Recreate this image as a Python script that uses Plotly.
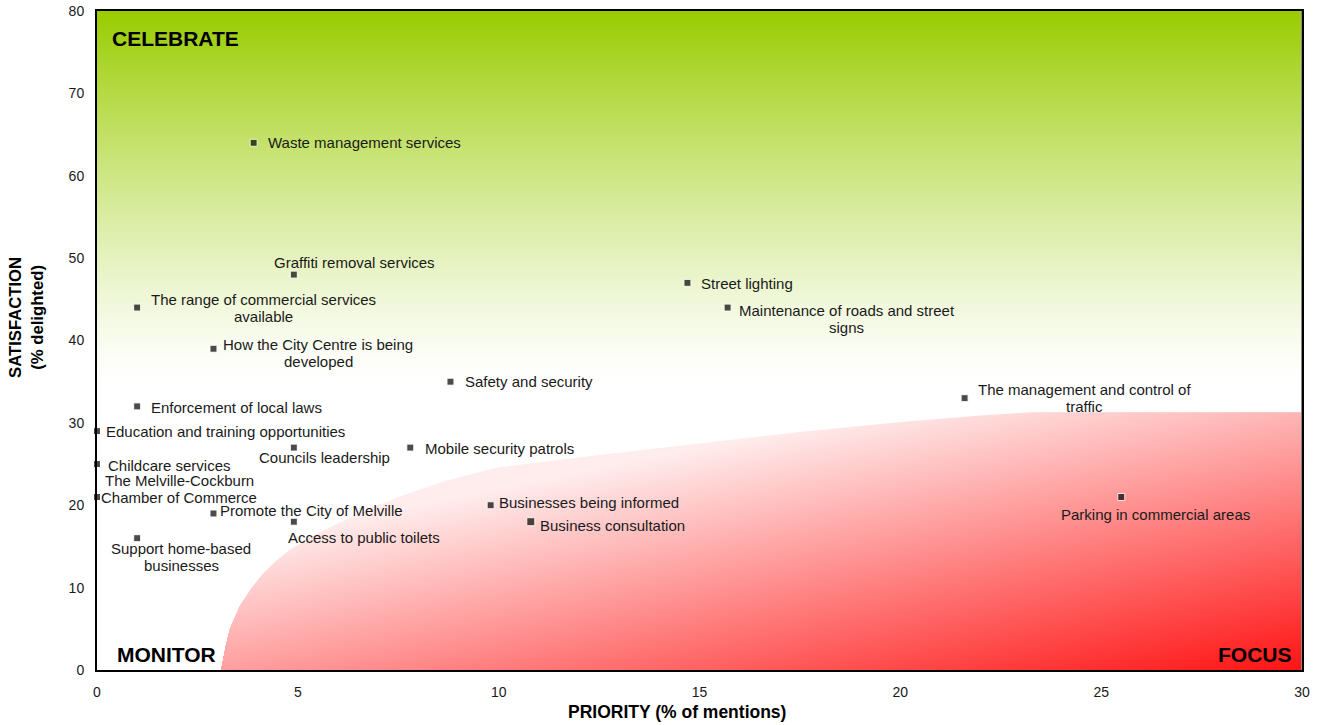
import base64
import struct
import zlib

import numpy as np
import plotly.graph_objects as go

# ---------------- data ----------------
items = [
    "Waste management services",
    "Graffiti removal services",
    "The range of commercial services<br>available",
    "How the City Centre is being<br>developed",
    "Street lighting",
    "Maintenance of roads and street<br>signs",
    "Safety and security",
    "Enforcement of local laws",
    "Education and training opportunities",
    "Childcare services",
    "The Melville-Cockburn<br>Chamber of Commerce",
    "Councils leadership",
    "Mobile security patrols",
    "The management and control of<br>traffic",
    "Parking in commercial areas",
    "Businesses being informed",
    "Business consultation",
    "Promote the City of Melville",
    "Access to public toilets",
    "Support home-based<br>businesses",
]
priority = [3.9, 4.9, 1.0, 2.9, 14.7, 15.7, 8.8, 1.0, 0.0, 0.0, 0.0, 4.9, 7.8,
            21.6, 25.5, 9.8, 10.8, 2.9, 4.9, 1.0]
satisfaction = [64, 48, 44, 39, 47, 44, 35, 32, 29, 25, 21, 27, 27,
                33, 21, 20, 18, 19, 18, 16]

x_ticks = [0, 5, 10, 15, 20, 25, 30]
y_ticks = [0, 10, 20, 30, 40, 50, 60, 70, 80]

# boundary of the "FOCUS" zone (priority, satisfaction)
zone_x = [3.08, 3.2, 3.3, 3.55, 3.85, 4.15, 4.47, 4.8, 5.5, 6.5, 7.5, 8.7, 10.0,
          12.5, 15.0, 17.5, 20.0, 22.0, 23.3, 30.0]
zone_y = [0.0, 3.0, 5.0, 7.8, 10.0, 11.8, 13.3, 14.6, 16.6, 19.0, 21.0, 23.0, 24.6,
          26.1, 27.5, 28.9, 30.1, 30.9, 31.3, 31.3]

# ---------------- label placement (anchor, dx px, dy px down) ----------------
label_style = [
    ("left", 12, 0), ("left", -22, -12), ("center", 126, 0), ("center", 105, 4),
    ("left", 12, 1), ("center", 119, 11), ("left", 13, 0), ("left", 12, 1),
    ("left", 7, 0), ("left", 9, 1), ("center", 82, -8), ("center", 31, 10),
    ("left", 13, 1), ("center", 120, 0), ("center", 34, 17), ("left", 6, -3),
    ("left", 7, 4), ("left", 5, -3), ("center", 70, 16), ("center", 44, 19),
]
LINE_GAP = 17

# ---------------- background image ----------------
L, T, W, H = 97, 11, 1205, 659
XMAX, YMAX = 30.0, 80.0

jj, ii = np.mgrid[0:H, 0:W]
xd = (ii + 0.5) / W * XMAX
yd = YMAX - (jj + 0.5) / H * YMAX
px = L + ii + 0.5
py = T + jj + 0.5

# green-to-white vertical gradient
frac = np.clip((yd - 35.0) / (YMAX - 35.0), 0, 1) ** 1.25
green = np.array([153, 204, 0], float)
white = np.array([255, 255, 255], float)
bg = white[None, None, :] * (1 - frac[..., None]) + green[None, None, :] * frac[..., None]

# red diagonal gradient in the focus zone
f = np.clip(0.000503 * px + 0.00245 * py - 1.375, 0.07, 0.97)
red = np.stack([np.full_like(f, 255.0), 255 * (1 - f), 255 * (1 - f)], axis=-1)

yb = np.interp(xd, zone_x, zone_y, left=-1.0, right=zone_y[-1])
alpha = np.clip((yb - yd) / (YMAX / H) + 0.5, 0, 1)
img = bg * (1 - alpha[..., None]) + red * alpha[..., None]
img = np.clip(np.round(img), 0, 255).astype(np.int16)


def to_png(arr):
    h, w, _ = arr.shape
    up = np.empty_like(arr)
    up[0] = arr[0]
    up[1:] = (arr[1:] - arr[:-1]) % 256
    rows = up.astype(np.uint8).reshape(h, w * 3)
    raw = np.concatenate([np.full((h, 1), 2, np.uint8), rows], axis=1)
    comp = zlib.compress(raw.tobytes(), 9)

    def chunk(t, d):
        c = struct.pack(">I", len(d)) + t + d
        return c + struct.pack(">I", zlib.crc32(t + d) & 0xFFFFFFFF)

    return (b"\x89PNG\r\n\x1a\n"
            + chunk(b"IHDR", struct.pack(">IIBBBBB", w, h, 8, 2, 0, 0, 0))
            + chunk(b"IDAT", comp) + chunk(b"IEND", b""))


src = "data:image/png;base64," + base64.b64encode(to_png(img)).decode()

# ---------------- figure ----------------
FONT = "Liberation Sans, Arial, sans-serif"
TXT = "#1a1a1a"

fig = go.Figure()
fig.add_layout_image(source=src, xref="x", yref="y", x=0, y=YMAX, sizex=XMAX, sizey=YMAX,
                     sizing="stretch", xanchor="left", yanchor="top", layer="below")

sizes = [8 if n == "Business consultation" else 7 for n in items]
fig.add_trace(go.Scatter(
    x=priority, y=satisfaction, mode="markers",
    marker=dict(symbol="square", size=sizes, color="black"),
    cliponaxis=False, hoverinfo="text", hovertext=[n.replace("<br>", " ") for n in items],
    showlegend=False,
))

for name, xv, yv, (anc, dx, dy) in zip(items, priority, satisfaction, label_style):
    lines = name.split("<br>")
    n = len(lines)
    for k, line in enumerate(lines):
        off = dy + (k - (n - 1) / 2) * LINE_GAP
        fig.add_annotation(x=xv, y=yv, xref="x", yref="y", text=line, showarrow=False,
                           xanchor=anc, yanchor="middle", xshift=dx, yshift=-off,
                           align="center", font=dict(family=FONT, size=15, color=TXT))

# quadrant labels
qfont = dict(family=FONT, size=21, color="black")
fig.add_annotation(text="<b>CELEBRATE</b>", xref="paper", yref="paper",
                   x=(110 - L) / W, y=(T + H - 39) / H, xanchor="left", yanchor="middle",
                   showarrow=False, font=qfont)
fig.add_annotation(text="<b>MONITOR</b>", xref="paper", yref="paper",
                   x=(115 - L) / W, y=(T + H - 654) / H, xanchor="left", yanchor="middle",
                   showarrow=False, font=qfont)
fig.add_annotation(text="<b>FOCUS</b>", xref="paper", yref="paper",
                   x=(1294 - L) / W, y=(T + H - 654) / H, xanchor="right", yanchor="middle",
                   showarrow=False, font=qfont)

# axis titles
fig.add_annotation(text="<b>PRIORITY (% of mentions)</b>", xref="paper", yref="paper",
                   x=(677 - L) / W, y=-(712 - (T + H)) / H, xanchor="center",
                   yanchor="middle", showarrow=False,
                   font=dict(family=FONT, size=17.5, color="black"))
fig.add_annotation(text="<b>SATISFACTION</b><br><b>(% delighted)</b>", xref="paper",
                   yref="paper", x=(26 - L) / W, y=(T + H - 318) / H, xanchor="center",
                   yanchor="middle", textangle=-90, showarrow=False,
                   font=dict(family=FONT, size=16.7, color="black"))

# right border grey
fig.add_shape(type="line", xref="x", yref="y", x0=XMAX, x1=XMAX, y0=0, y1=YMAX,
              line=dict(color="#888888", width=2), layer="above")

fig.update_layout(
    width=1318, height=725,
    margin=dict(l=L, r=1318 - L - W, t=T, b=725 - T - H, autoexpand=False),
    paper_bgcolor="white", plot_bgcolor="white",
    font=dict(family=FONT, color=TXT),
    xaxis=dict(range=[0, XMAX], tickvals=x_ticks, ticktext=[str(v) for v in x_ticks],
               showgrid=False, zeroline=False, showline=True, linecolor="black",
               linewidth=2, mirror=True, ticks="", ticklabelstandoff=8, automargin=False,
               tickfont=dict(family=FONT, size=14, color=TXT), fixedrange=True),
    yaxis=dict(range=[0, YMAX], tickvals=y_ticks, ticktext=[str(v) for v in y_ticks],
               showgrid=False, zeroline=False, showline=True, linecolor="black",
               linewidth=2, mirror=True, ticks="", ticklabelstandoff=8, automargin=False,
               tickfont=dict(family=FONT, size=14, color=TXT), fixedrange=True),
)

fig.write_html("out.html")
